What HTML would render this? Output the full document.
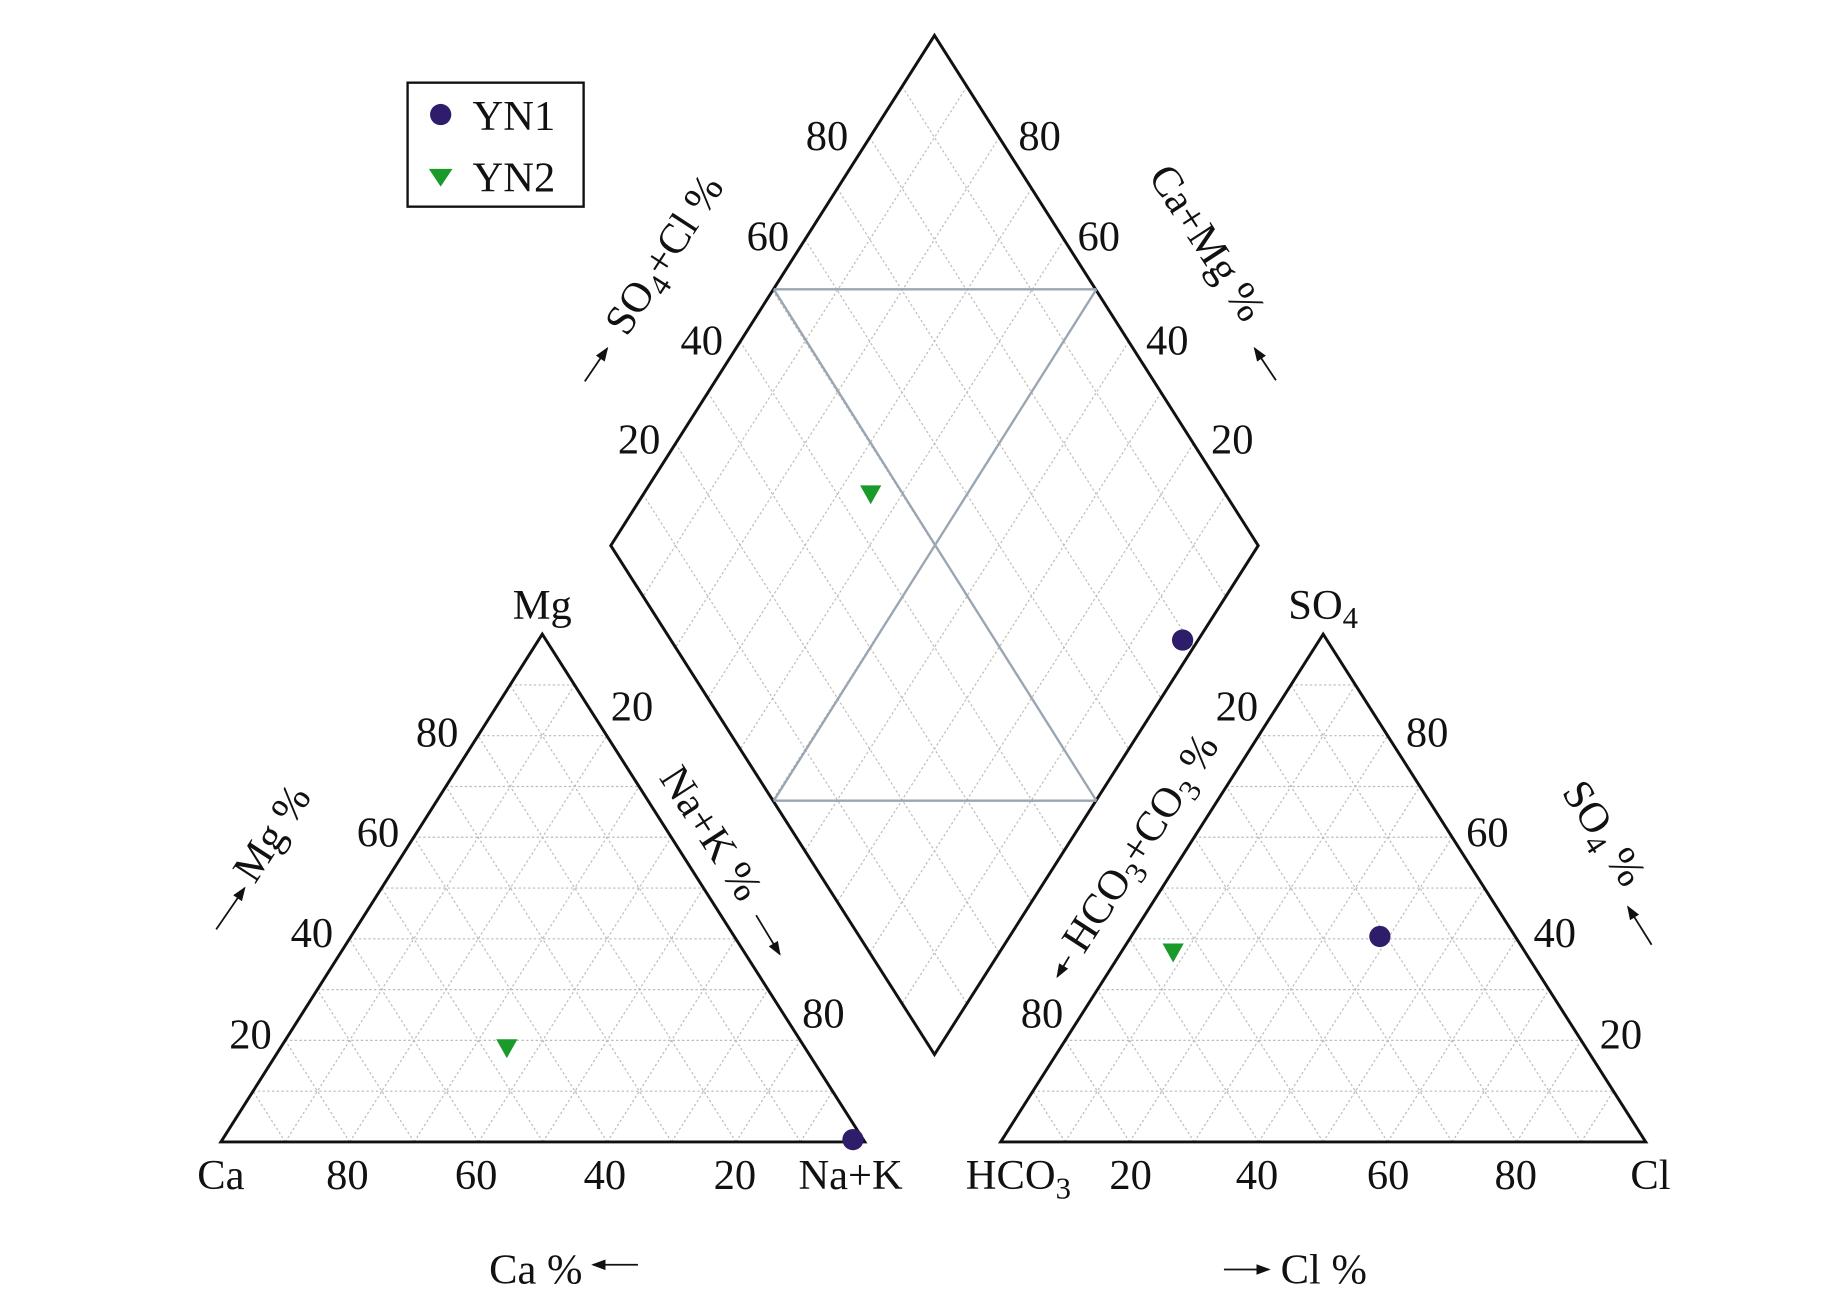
<!DOCTYPE html>
<html><head><meta charset="utf-8"><style>
html,body{margin:0;padding:0;background:#fff;}
svg{display:block;}
text{font-family:"Liberation Serif",serif;fill:#111;}
</style></head><body>
<svg id="s" width="1843" height="1299" viewBox="0 0 1560 1100" preserveAspectRatio="none" xmlns="http://www.w3.org/2000/svg">
<defs><marker id="ar" markerWidth="8" markerHeight="8" refX="7" refY="4" orient="auto"><path d="M0,1 L8,4 L0,7 Z" fill="#111"/></marker></defs>
<g id="grid" stroke="#bbb" stroke-width="1" stroke-dasharray="2,2" fill="none"></g>
<g stroke="#111" stroke-width="2.5" fill="none">
<polygon points="187,967 732,967 459,537"/>
<polygon points="847,967 1393,967 1120,537"/>
<polygon points="791,30 1065,462 791,893 517,462"/>
</g>
<g stroke="#9aa6b2" stroke-width="2" fill="none">
<line x1="655" y1="245" x2="928" y2="245"/>
<line x1="655" y1="678" x2="928" y2="678"/>
<line x1="655" y1="245" x2="928" y2="678"/>
<line x1="928" y1="245" x2="655" y2="678"/>
</g>
<g fill="#2e1d6b">
<circle cx="1001" cy="542" r="9"/><circle cx="722" cy="965" r="9"/><circle cx="1168" cy="793" r="9"/>
</g>
<g fill="#1a9a2a">
<polygon points="728,411 746,411 737,427"/>
<polygon points="420,880 438,880 429,896"/>
<polygon points="984,799 1002,799 993,815"/>
</g>
<rect x="345" y="70" width="149" height="105" fill="#fff" stroke="#111" stroke-width="2"/>
<circle cx="373" cy="97" r="9" fill="#2e1d6b"/>
<polygon points="363,143 383,143 373,158" fill="#1a9a2a"/>
<g font-size="36">
<text x="400" y="110">YN1</text><text x="400" y="162">YN2</text>
<text x="493" y="1087" text-anchor="end">Ca %</text>
<text x="1084" y="1087">Cl %</text>
</g>
<g font-size="36" text-anchor="middle">
<text x="370" y="632">80</text><text x="320" y="717">60</text><text x="264" y="802">40</text><text x="212" y="888">20</text>
<text x="294" y="1007">80</text><text x="403" y="1007">60</text><text x="512" y="1007">40</text><text x="622" y="1007">20</text>
<text x="535" y="610">20</text><text x="697" y="870">80</text>
<text x="187" y="1007">Ca</text><text x="720" y="1007">Na+K</text><text x="459" y="524">Mg</text>
<text x="862" y="1007">HCO<tspan font-size="26" dy="8">3</tspan></text>
<text x="957" y="1007">20</text><text x="1064" y="1007">40</text><text x="1175" y="1007">60</text><text x="1283" y="1007">80</text>
<text x="1397" y="1007">Cl</text>
<text x="1208" y="632">80</text><text x="1259" y="717">60</text><text x="1316" y="802">40</text><text x="1372" y="888">20</text>
<text x="1047" y="610">20</text><text x="882" y="870">80</text>
<text x="1120" y="524">SO<tspan font-size="26" dy="8">4</tspan></text>
<text x="700" y="127">80</text><text x="650" y="212">60</text><text x="594" y="300">40</text><text x="541" y="384">20</text>
<text x="880" y="127">80</text><text x="930" y="212">60</text><text x="988" y="300">40</text><text x="1043" y="384">20</text>
<text transform="translate(240,712) rotate(-57)">Mg %</text>
<text transform="translate(592,712) rotate(57)">Na+K %</text>
<text transform="translate(975,720) rotate(-57)">HCO<tspan font-size="26" dy="8">3</tspan><tspan dy="-8">+CO</tspan><tspan font-size="26" dy="8">3</tspan><tspan dy="-8"> %</tspan></text>
<text transform="translate(1348,712) rotate(57)">SO<tspan font-size="26" dy="8">4</tspan><tspan dy="-8"> %</tspan></text>
<text transform="translate(572,222) rotate(-57)">SO<tspan font-size="26" dy="8">4</tspan><tspan dy="-8">+Cl %</tspan></text>
<text transform="translate(1012,212) rotate(57)">Ca+Mg %</text>
</g>
<g stroke="#111" stroke-width="1.5" marker-end="url(#ar)">
<line x1="183" y1="787" x2="207" y2="752"/>
<line x1="640" y1="775" x2="660" y2="808"/>
<line x1="905" y1="810" x2="895" y2="827"/>
<line x1="1398" y1="800" x2="1378" y2="768"/>
<line x1="495" y1="323" x2="514" y2="295"/>
<line x1="1080" y1="322" x2="1062" y2="295"/>
<line x1="540" y1="1071" x2="502" y2="1071"/>
<line x1="1036" y1="1075" x2="1074" y2="1075"/>
</g>
</svg>
<script>
(function(){
var g=document.getElementById('grid'),ns='http://www.w3.org/2000/svg';
function L(a,b){var l=document.createElementNS(ns,'line');l.setAttribute('x1',a[0]);l.setAttribute('y1',a[1]);l.setAttribute('x2',b[0]);l.setAttribute('y2',b[1]);g.appendChild(l);}
function p(a,b,t){return [a[0]+t*(b[0]-a[0]),a[1]+t*(b[1]-a[1])];}
function tri(A,B,C){for(var i=1;i<10;i++){var t=i/10;L(p(A,C,t),p(B,C,t));L(p(A,B,t),p(C,B,t));L(p(B,A,t),p(C,A,t));}}
tri([187,967],[732,967],[459,537]);
tri([847,967],[1393,967],[1120,537]);
var T=[791,30],Lf=[517,462],R=[1065,462],Bo=[791,893];
for(var i=1;i<10;i++){var t=i/10;L(p(T,R,t),p(Lf,Bo,t));L(p(T,Lf,t),p(R,Bo,t));}
})();
</script>
</body></html>
